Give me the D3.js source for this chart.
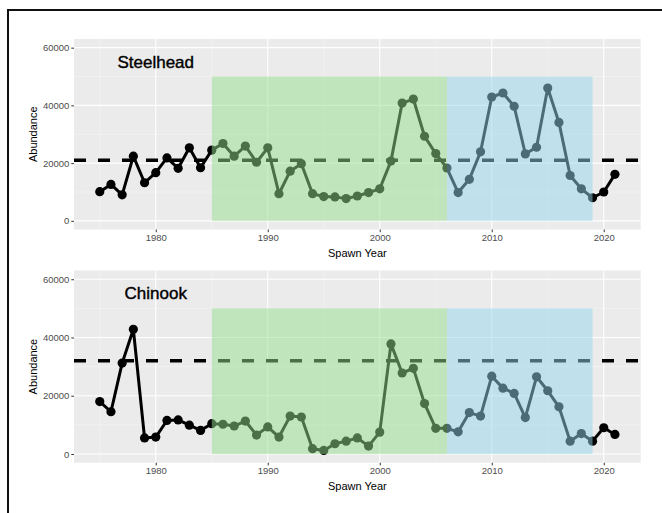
<!DOCTYPE html>
<html>
<head>
<meta charset="UTF-8">
<title>Abundance by spawn year</title>
<script src="https://cdn.jsdelivr.net/npm/d3@7"></script>
<style>
  body { margin: 0; background: #fff; }
  text { font-family: "Liberation Sans", Arial, sans-serif; }
  .tick text { fill: #4d4d4d; font-size: 9.5px; }
</style>
</head>
<body>
<svg width="662" height="513"></svg>
<script>
// spawn years 1975..2021
var years = [1975,1976,1977,1978,1979,1980,1981,1982,1983,1984,1985,1986,1987,1988,1989,
             1990,1991,1992,1993,1994,1995,1996,1997,1998,1999,2000,2001,2002,2003,2004,
             2005,2006,2007,2008,2009,2010,2011,2012,2013,2014,2015,2016,2017,2018,2019,
             2020,2021];

var steelhead = [10100,12600,9000,22400,13200,16700,21800,18200,25300,18400,24500,26800,22400,25900,20300,
                 25300,9400,17200,19800,9400,8400,8300,7700,8600,9800,11100,20700,40800,42200,29300,
                 23300,18300,9800,14400,23900,42900,44300,39700,23200,25500,46000,34100,15700,11100,8000,
                 10000,16100];

var chinook = [18000,14500,31200,42800,5500,5800,11500,11700,9900,8100,10400,10200,9600,11300,6500,
               9300,5800,13000,12700,1800,1200,3500,4400,5500,2700,7500,37800,27800,29400,17300,
               8800,8800,7600,14200,13000,26700,22600,20800,12500,26500,21700,16200,4400,7000,4400,
               9000,6700];

var steelheadGoal = 21000;
var chinookGoal = 32000;

// shaded periods
var periods = [
  {start: 1985, end: 2006, fill: "rgb(150,222,140)"},
  {start: 2006, end: 2019, fill: "rgb(150,215,235)"}
];

var xTicks = [1980, 1990, 2000, 2010, 2020];
var yTicks = [0, 20000, 40000, 60000];

var svg = d3.select("svg");

// outer frame (only top and left edges are visible)
svg.append("path")
  .attr("d", "M8,513 L8,10 L662,10")
  .attr("fill", "none")
  .attr("stroke", "#111")
  .attr("stroke-width", 2);

var x = d3.scaleLinear().domain([1972.7, 2023.3]).range([74, 640.7]);

function drawPanel(top, bottom, values, goal, title) {
  var y = d3.scaleLinear().domain([-3000, 63000]).range([bottom, top]);
  var g = svg.append("g");

  g.append("rect")
    .attr("x", x.range()[0]).attr("y", top)
    .attr("width", x.range()[1] - x.range()[0]).attr("height", bottom - top)
    .attr("fill", "#ebebeb");

  // minor grid
  g.selectAll(".xminor").data([1975, 1985, 1995, 2005, 2015]).enter().append("line")
    .attr("x1", x).attr("x2", x).attr("y1", top).attr("y2", bottom)
    .attr("stroke", "#f5f5f5").attr("stroke-width", 0.6);
  g.selectAll(".yminor").data([10000, 30000, 50000]).enter().append("line")
    .attr("x1", x.range()[0]).attr("x2", x.range()[1]).attr("y1", y).attr("y2", y)
    .attr("stroke", "#f5f5f5").attr("stroke-width", 0.6);
  // major grid
  g.selectAll(".xmajor").data(xTicks).enter().append("line")
    .attr("x1", x).attr("x2", x).attr("y1", top).attr("y2", bottom)
    .attr("stroke", "#fff").attr("stroke-width", 1.1);
  g.selectAll(".ymajor").data(yTicks).enter().append("line")
    .attr("x1", x.range()[0]).attr("x2", x.range()[1]).attr("y1", y).attr("y2", y)
    .attr("stroke", "#fff").attr("stroke-width", 1.1);

  // goal line
  g.append("line")
    .attr("x1", x.range()[0]).attr("x2", x.range()[1])
    .attr("y1", y(goal)).attr("y2", y(goal))
    .attr("stroke", "#000").attr("stroke-width", 3.5)
    .attr("stroke-dasharray", "12,12");

  var pts = years.map(function(d, i) { return [d, values[i]]; });

  g.append("path")
    .datum(pts)
    .attr("fill", "none")
    .attr("stroke", "#000")
    .attr("stroke-width", 3)
    .attr("stroke-linejoin", "round")
    .attr("d", d3.line().x(function(d) { return x(d[0]); }).y(function(d) { return y(d[1]); }));

  g.selectAll(".pt").data(pts).enter().append("circle")
    .attr("cx", function(d) { return x(d[0]); })
    .attr("cy", function(d) { return y(d[1]); })
    .attr("r", 4.6)
    .attr("fill", "#000");

  // shaded periods drawn over the data
  g.selectAll(".period").data(periods).enter().append("rect")
    .attr("x", function(d) { return x(d.start); })
    .attr("width", function(d) { return x(d.end) - x(d.start); })
    .attr("y", y(50000))
    .attr("height", y(0) - y(50000))
    .attr("fill", function(d) { return d.fill; })
    .attr("opacity", 0.5);

  g.append("text")
    .attr("x", x(1980)).attr("y", y(55000))
    .attr("text-anchor", "middle").attr("dominant-baseline", "central")
    .attr("font-size", "17px").attr("fill", "#000")
    .attr("stroke", "#000").attr("stroke-width", 0.4)
    .text(title);

  // axes
  var xa = g.append("g").attr("transform", "translate(0," + bottom + ")")
    .call(d3.axisBottom(x).tickValues(xTicks).tickFormat(d3.format("d")).tickSize(2.7).tickPadding(2));
  var ya = g.append("g").attr("transform", "translate(" + x.range()[0] + ",0)")
    .call(d3.axisLeft(y).tickValues(yTicks).tickFormat(d3.format("d")).tickSize(2.7).tickPadding(2));
  [xa, ya].forEach(function(a) {
    a.select(".domain").remove();
    a.selectAll(".tick line").attr("stroke", "#333");
  });

  g.append("text")
    .attr("x", (x.range()[0] + x.range()[1]) / 2).attr("y", bottom + 27)
    .attr("text-anchor", "middle").attr("font-size", "11px").attr("fill", "#000")
    .text("Spawn Year");

  g.append("text")
    .attr("transform", "translate(33," + ((top + bottom) / 2) + ") rotate(-90)")
    .attr("text-anchor", "middle").attr("dominant-baseline", "central")
    .attr("font-size", "11px").attr("fill", "#000")
    .text("Abundance");
}

drawPanel(39, 229.5, steelhead, steelheadGoal, "Steelhead");
drawPanel(270.5, 462.7, chinook, chinookGoal, "Chinook");
</script>
</body>
</html>
